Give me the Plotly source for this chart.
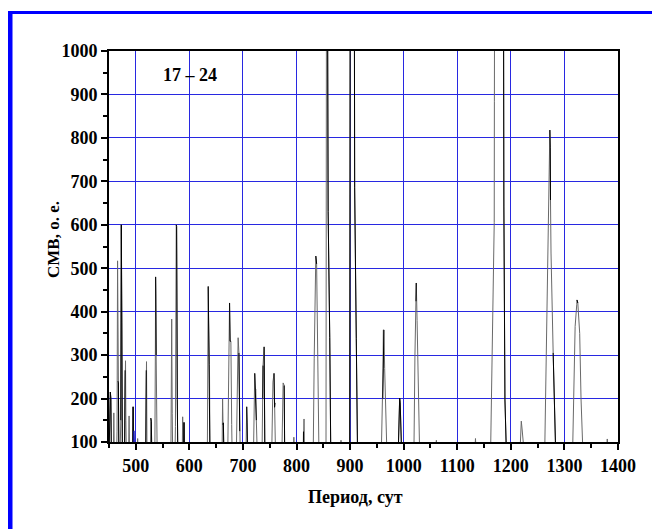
import plotly.graph_objects as go

# ---- data: СМВ spectrum (period, days -> value) ----
smb_x = [450, 451.5, 452.5, 453.5, 454.5,
         458, 459, 460,
         464, 465, 466, 466.8, 467.5, 468.5,
         470.5, 471, 472, 473, 474, 475,
         479, 480, 480.8, 481.5, 482.5,
         486.5, 487.5, 488.5,
         494, 495, 496,
         502.5, 503.5, 504.5,
         518.5, 519.5, 520, 521,
         527, 528, 529, 530,
         535.5, 536.5, 537, 537.5, 538, 539, 540,
         565.5, 566.5, 567, 568, 569,
         573, 574, 575.5, 576.2, 577.5, 578.5,
         586.5, 587.5, 588.5, 589, 590, 591,
         633.5, 634.5, 635.2, 635.6, 637.5, 638.5,
         661, 662, 662.8, 663.5, 664.5,
         671.5, 673, 674, 675, 676, 677.5, 679, 680,
         687.5, 689, 690, 691, 692.5, 693.5, 694, 695,
         705.5, 707, 708, 709,
         719.5, 721, 722, 723, 724, 725, 726, 727,
         735.5, 737, 737.5, 739.5, 740, 741,
         753.5, 755, 756, 758, 759, 760, 761,
         772.5, 773.5, 775, 777, 778,
         794, 795, 796,
         812.5, 813, 814, 815,
         831, 833, 834.5, 836, 837.5, 839, 840, 842,
         855, 856, 857.5, 858, 859, 862, 864,
         881, 883, 885,
         899.2, 899.8, 900.3, 907.6, 908.5, 911.5, 914,
         958, 961, 961.5, 962, 963, 964.5, 966.5, 969,
         989.5, 992.5, 993.5, 996.5,
         1019, 1021, 1023, 1023.5, 1025, 1026, 1030,
         1059, 1061, 1063,
         1132, 1134, 1136,
         1162, 1167, 1169, 1169.3, 1170, 1186, 1187, 1189, 1192,
         1216.5, 1219.5, 1221, 1226,
         1263, 1267.5, 1270, 1271.5, 1272.8, 1273.5, 1274, 1275, 1279, 1284,
         1315, 1320, 1323, 1323.5, 1325, 1328.5, 1331, 1335,
         1378, 1380, 1382]
smb_y = [60, 215, 215, 200, 60,
         60, 167, 60,
         60, 125, 517, 240, 236, 60,
         60, 150, 150, 600, 374, 60,
         60, 265, 287, 150, 60,
         60, 160, 60,
         60, 181, 60,
         60, 108, 60,
         60, 265, 285, 60,
         60, 155, 148, 60,
         60, 300, 480, 441, 300, 198, 60,
         60, 282, 383, 165, 60,
         60, 136, 600, 596, 198, 60,
         60, 158, 60, 60, 145, 60,
         60, 300, 458, 406, 278, 60,
         60, 200, 140, 144, 60,
         60, 269, 300, 420, 332, 332, 140, 60,
         60, 162, 250, 340, 305, 150, 125, 60,
         60, 181, 144, 60,
         60, 148, 258, 222, 222, 150, 108, 60,
         60, 200, 276, 319, 222, 60,
         60, 178, 238, 258, 180, 190, 60,
         60, 128, 236, 230, 60,
         60, 111, 60,
         60, 124, 153, 60,
         60, 293, 434, 528, 510, 370, 291, 60,
         60, 1300, 1300, 956, 630, 340, 60,
         60, 104, 60,
         60, 454, 1400, 1400, 685, 339, 60,
         60, 200, 270, 358, 358, 269, 180, 60,
         60, 201, 190, 60,
         60, 300, 424, 466, 380, 300, 60,
         60, 104, 60,
         60, 108, 60,
         60, 397, 605, 883, 1400, 1400, 641, 197, 60,
         60, 148, 130, 60,
         60, 404, 561, 719, 818, 777, 657, 535, 305, 60,
         60, 366, 416, 427, 420, 350, 200, 60,
         60, 107, 60]

# period spans whose part of the curve is printed in black in the original
dark_spans = [(449, 455), (466.8, 468.5), (472, 475), (479, 480), (494, 496),
              (518.5, 519.5), (528, 530), (537, 538), (575.5, 579), (589, 591),
              (635, 639), (662.8, 664.5), (674.5, 678), (692.5, 694), (707, 709),
              (721.5, 725), (737, 737.5), (739.5, 741), (757, 760), (776, 778),
              (812.5, 813), (836, 837.5), (857.5, 864), (899, 914), (961, 964),
              (989, 997), (1023, 1024), (1186, 1192), (1217, 1220),
              (1272.5, 1274), (1279, 1284), (1323.3, 1325.5)]

blue_x = [495.5, 496.5, 497.5]
blue_y = [60, 126, 60]

x_ticks = [500, 600, 700, 800, 900, 1000, 1100, 1200, 1300, 1400]
y_ticks = [100, 200, 300, 400, 500, 600, 700, 800, 900, 1000]
label_text = "17 – 24"
x_title = "Период, сут"
y_title = "СМВ, о. е."

# ---- layout geometry (pixels) ----
W, H = 652, 529
L, R, T, B = 109, 618, 51, 442


def px(x):
    return (x - L) / (R - L)


def py(y):
    return (B - y) / (B - T)


# black overlay built from the same series
dark_x, dark_y = [], []
for a, b in dark_spans:
    for xv, yv in zip(smb_x, smb_y):
        if a <= xv <= b:
            dark_x.append(xv)
            dark_y.append(yv)
    dark_x.append(None)
    dark_y.append(None)

FONT = "Liberation Serif"
GRID = "rgb(40,40,225)"

fig = go.Figure()
fig.add_trace(go.Scatter(x=smb_x, y=smb_y, mode="lines",
                         line=dict(color="rgb(105,105,105)", width=1),
                         hoverinfo="skip", showlegend=False))
fig.add_trace(go.Scatter(x=dark_x, y=dark_y, mode="lines", connectgaps=False,
                         line=dict(color="black", width=1),
                         hoverinfo="skip", showlegend=False))
fig.add_trace(go.Scatter(x=blue_x, y=blue_y, mode="lines",
                         line=dict(color="rgb(20,20,160)", width=1.5),
                         hoverinfo="skip", showlegend=False))

axis_common = dict(
    showline=True, linecolor="black", linewidth=2, mirror=True,
    showgrid=True, gridcolor=GRID, gridwidth=1,
    zeroline=False, ticks="outside", ticklen=6, tickwidth=1.5, tickcolor="black",
    tickfont=dict(family=FONT, size=18, color="black", weight="bold"),
)

fig.update_xaxes(range=[450, 1400], tickvals=x_ticks,
                 ticktext=[str(v) for v in x_ticks],
                 minor=dict(dtick=50, tick0=0, ticks="outside", ticklen=4,
                            tickwidth=1.5, tickcolor="black", showgrid=False),
                 **axis_common)
fig.update_yaxes(range=[100, 1000], tickvals=y_ticks,
                 ticktext=[str(v) for v in y_ticks],
                 minor=dict(dtick=50, tick0=0, ticks="outside", ticklen=4,
                            tickwidth=1.5, tickcolor="black", showgrid=False),
                 **axis_common)

fig.add_annotation(x=601, y=945, xref="x", yref="y", text="<b>%s</b>" % label_text,
                   showarrow=False, font=dict(family=FONT, size=18, color="black"))
fig.add_annotation(x=px(355), y=py(497), xref="paper", yref="paper",
                   text="<b>%s</b>" % x_title, showarrow=False,
                   xanchor="center", yanchor="middle",
                   font=dict(family=FONT, size=18, color="black"))
fig.add_annotation(x=px(53), y=py(240), xref="paper", yref="paper",
                   text="<b>%s</b>" % y_title, showarrow=False, textangle=-90,
                   xanchor="center", yanchor="middle",
                   font=dict(family=FONT, size=17, color="black"))

# blue frame (left and top edges of the picture)
fig.add_shape(type="rect", xref="paper", yref="paper",
              x0=px(8), x1=px(12.5), y0=py(H + 5), y1=py(11),
              fillcolor="rgb(0,0,255)", line=dict(width=0), layer="above")
fig.add_shape(type="rect", xref="paper", yref="paper",
              x0=px(8), x1=px(W + 5), y0=py(14), y1=py(11),
              fillcolor="rgb(0,0,255)", line=dict(width=0), layer="above")

fig.update_layout(
    width=W, height=H,
    margin=dict(l=L, r=W - R, t=T, b=H - B),
    paper_bgcolor="white", plot_bgcolor="white",
    showlegend=False,
)

fig.write_html("out.html")
